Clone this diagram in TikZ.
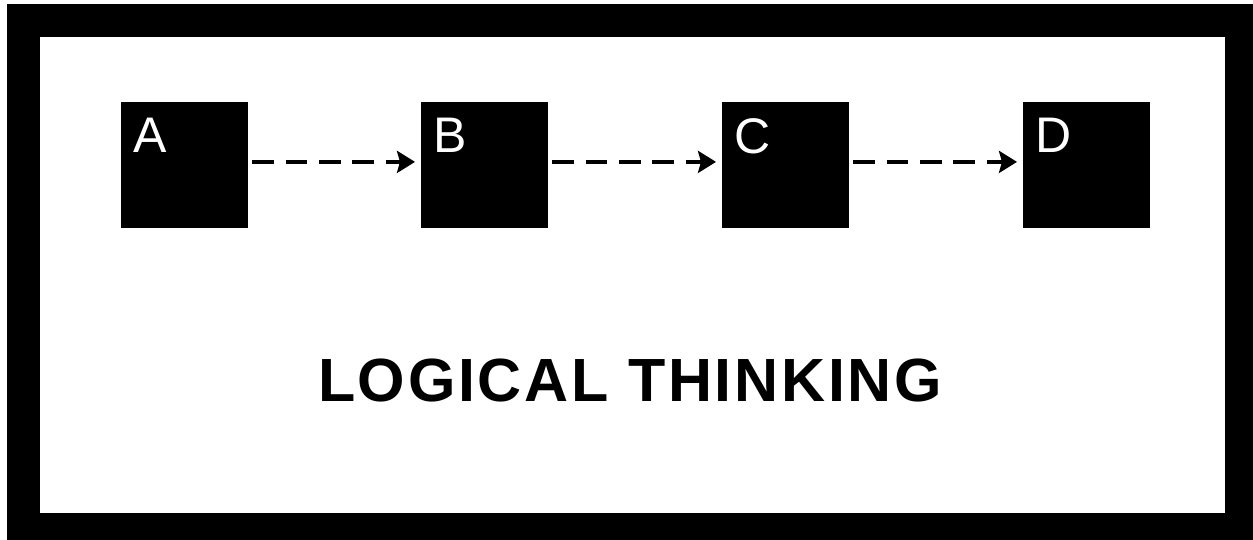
\documentclass[tikz,border=0pt]{standalone}
\usepackage{fontspec}
\setmainfont{Liberation Sans}
\usetikzlibrary{arrows.meta}
\begin{document}
\begin{tikzpicture}[x=1pt,y=-1pt,
  stepbox/.style={fill=black,draw=none,minimum width=127pt,minimum height=126pt,
    inner sep=0pt,anchor=north west},
  boxletter/.style={text=white,font=\fontsize{50}{50}\selectfont,inner sep=0pt,anchor=north west},
  flow/.style={line width=3.5pt,dash pattern=on 21.6pt off 11.7pt,
    -{Stealth[length=18pt,width=22pt,inset=3pt]},shorten <=4pt,shorten >=6pt},
  title/.style={font=\fontsize{61}{61}\bfseries\addfontfeature{LetterSpace=4.4}\selectfont,inner sep=0pt}]
  \useasboundingbox (0,0) rectangle (1253,540);
  % frame
  \fill[white] (0,0) rectangle (1253,540);
  \fill[black] (7,4) rectangle (1253,540);
  \fill[white] (40,37) rectangle (1225,513);
  % steps
  \node[stepbox] (a) at (121,102) {};
  \node[stepbox] (b) at (421,102) {};
  \node[stepbox] (c) at (722,102) {};
  \node[stepbox] (d) at (1023,102) {};
  \node[boxletter] (la) at ([xshift=12pt,yshift=-16pt]a.north west) {A};
  \node[boxletter] (lb) at ([xshift=12pt,yshift=-16pt]b.north west) {B};
  \node[boxletter] (lc) at ([xshift=12pt,yshift=-16pt]c.north west) {C};
  \node[boxletter] (ld) at ([xshift=12pt,yshift=-16pt]d.north west) {D};
  % connectors
  \draw[flow] ([yshift=3.3pt]a.east) -- ([yshift=3.3pt]b.west);
  \draw[flow] ([yshift=3.3pt]b.east) -- ([yshift=3.3pt]c.west);
  \draw[flow] ([yshift=3.3pt]c.east) -- ([yshift=3.3pt]d.west);
  % caption
  \node[title] (t) at (630,380) {LOGICAL THINKING};
\end{tikzpicture}
\end{document}
